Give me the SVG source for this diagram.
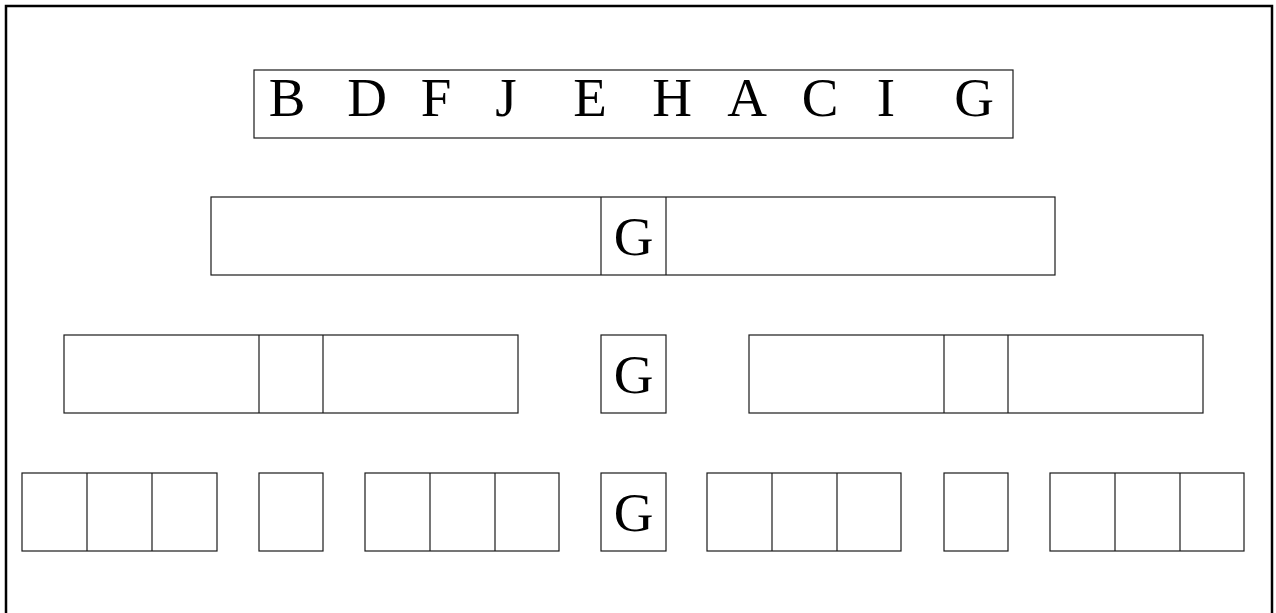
<svg xmlns="http://www.w3.org/2000/svg" width="1276" height="613" viewBox="0 0 1276 613">
  <style>
    .cell { fill: #ffffff; stroke: #1a1a1a; stroke-width: 1.2; }
    .div { stroke: #1a1a1a; stroke-width: 1.2; }
    .lbl { font-family: "Liberation Serif", "DejaVu Serif", serif; font-size: 55px; fill: #000000; text-anchor: middle; }
  </style>
  <rect width="1276" height="613" fill="#ffffff"/>
  <!-- outer frame -->
  <rect x="6" y="6" width="1266" height="620" fill="none" stroke="#000000" stroke-width="2.5"/>

  <!-- full sequence -->
  <g id="sequence">
    <rect class="cell" x="254" y="70" width="759" height="68"/>
    <text class="lbl" x="287" y="116">B</text>
    <text class="lbl" x="367" y="116">D</text>
    <text class="lbl" x="436" y="116">F</text>
    <text class="lbl" x="506" y="116">J</text>
    <text class="lbl" x="590" y="116">E</text>
    <text class="lbl" x="672" y="116">H</text>
    <text class="lbl" x="747" y="116">A</text>
    <text class="lbl" x="820" y="116">C</text>
    <text class="lbl" x="886" y="116">I</text>
    <text class="lbl" x="974" y="116">G</text>
  </g>

  <!-- level 1: split around G -->
  <g id="level1">
    <rect class="cell" x="211" y="197" width="844" height="78"/>
    <line class="div" x1="601" y1="197" x2="601" y2="275"/>
    <line class="div" x1="666" y1="197" x2="666" y2="275"/>
    <text class="lbl" x="633.5" y="255">G</text>
  </g>

  <!-- level 2 -->
  <g id="level2-left">
    <rect class="cell" x="64" y="335" width="454" height="78"/>
    <line class="div" x1="259" y1="335" x2="259" y2="413"/>
    <line class="div" x1="323" y1="335" x2="323" y2="413"/>
  </g>
  <g id="level2-root">
    <rect class="cell" x="601" y="335" width="65" height="78"/>
    <text class="lbl" x="633.5" y="393">G</text>
  </g>
  <g id="level2-right">
    <rect class="cell" x="749" y="335" width="454" height="78"/>
    <line class="div" x1="944" y1="335" x2="944" y2="413"/>
    <line class="div" x1="1008" y1="335" x2="1008" y2="413"/>
  </g>

  <!-- level 3 -->
  <g id="level3-a">
    <rect class="cell" x="22" y="473" width="195" height="78"/>
    <line class="div" x1="87" y1="473" x2="87" y2="551"/>
    <line class="div" x1="152" y1="473" x2="152" y2="551"/>
  </g>
  <g id="level3-b">
    <rect class="cell" x="259" y="473" width="64" height="78"/>
  </g>
  <g id="level3-c">
    <rect class="cell" x="365" y="473" width="194" height="78"/>
    <line class="div" x1="430" y1="473" x2="430" y2="551"/>
    <line class="div" x1="495" y1="473" x2="495" y2="551"/>
  </g>
  <g id="level3-root">
    <rect class="cell" x="601" y="473" width="65" height="78"/>
    <text class="lbl" x="633.5" y="531">G</text>
  </g>
  <g id="level3-d">
    <rect class="cell" x="707" y="473" width="194" height="78"/>
    <line class="div" x1="772" y1="473" x2="772" y2="551"/>
    <line class="div" x1="837" y1="473" x2="837" y2="551"/>
  </g>
  <g id="level3-e">
    <rect class="cell" x="944" y="473" width="64" height="78"/>
  </g>
  <g id="level3-f">
    <rect class="cell" x="1050" y="473" width="194" height="78"/>
    <line class="div" x1="1115" y1="473" x2="1115" y2="551"/>
    <line class="div" x1="1180" y1="473" x2="1180" y2="551"/>
  </g>

  <g id="connectors"/>
</svg>
